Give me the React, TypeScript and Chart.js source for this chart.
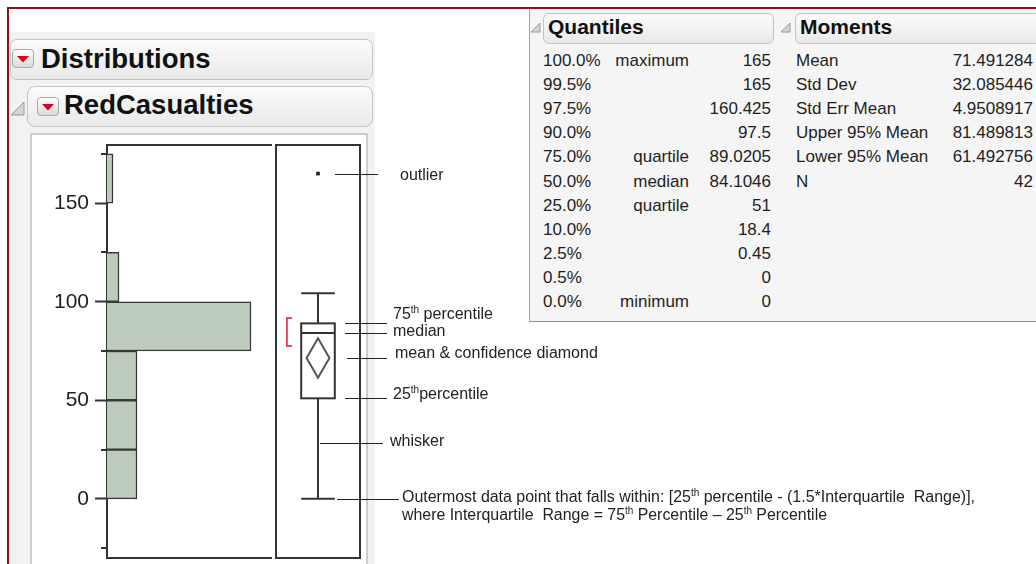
import React, { useEffect, useRef } from "react";
import { Chart, registerables } from "chart.js";

Chart.register(...registerables);

// ---------- data ----------
const binEdges = [0, 25, 50, 75, 100, 125, 150, 175];
const binCounts = [5, 5, 5, 24, 2, 0, 1];
const axisTicks = [-25, 0, 25, 50, 75, 100, 125, 150, 175];
const axisLabels = ["", "0", "", "50", "", "100", "", "150", ""];
const axisMin = -30;
const axisMax = 179.5;
const countMax = 27.5;

const whiskerLow = 0;
const quartile1 = 51;
const medianValue = 84.1046;
const quartile3 = 89.0205;
const whiskerHigh = 104.3;
const meanValue = 71.491284;
const lowerMean95 = 61.492756;
const upperMean95 = 81.489813;
const outliers = [165];
const shortestHalf = [77.5, 91.7];
const whiskerPointer = 28.5;

const quantilePcts = ["100.0%", "99.5%", "97.5%", "90.0%", "75.0%", "50.0%", "25.0%", "10.0%", "2.5%", "0.5%", "0.0%"];
const quantileNames = ["maximum", "", "", "", "quartile", "median", "quartile", "", "", "", "minimum"];
const quantileValues = ["165", "165", "160.425", "97.5", "89.0205", "84.1046", "51", "18.4", "0.45", "0", "0"];
const momentNames = ["Mean", "Std Dev", "Std Err Mean", "Upper 95% Mean", "Lower 95% Mean", "N"];
const momentValues = ["71.491284", "32.085446", "4.9508917", "81.489813", "61.492756", "42"];

type Seg = { t: string; sup?: boolean };
const annotationTexts: Seg[][] = [
  [{ t: "outlier" }],
  [{ t: "75" }, { t: "th", sup: true }, { t: " percentile" }],
  [{ t: "median" }],
  [{ t: "mean & confidence diamond" }],
  [{ t: "25" }, { t: "th", sup: true }, { t: "percentile" }],
  [{ t: "whisker" }],
  [{ t: "Outermost data point that falls within: [25" }, { t: "th", sup: true }, { t: " percentile - (1.5*Interquartile  Range)]," }],
];
const annotationSecondLine: Seg[] = [
  { t: "where Interquartile  Range = 75" }, { t: "th", sup: true }, { t: " Percentile \u2013 25" }, { t: "th", sup: true }, { t: " Percentile" },
];
const annotationValues = [outliers[0], quartile3, medianValue, meanValue, quartile1, whiskerPointer, whiskerLow];

// ---------- layout (page pixels) ----------
const annotationLayout = [
  { x1: 335, x2: 378, tx: 400, dy: 1, w: 0 },
  { x1: 345, x2: 387, tx: 393, dy: -9, w: 0 },
  { x1: 345, x2: 387, tx: 393, dy: -2, w: 0 },
  { x1: 347, x2: 387, tx: 395, dy: -5, w: 0 },
  { x1: 345, x2: 387, tx: 393, dy: -4, w: 0 },
  { x1: 320, x2: 383, tx: 390, dy: -2, w: 0 },
  { x1: 337, x2: 399, tx: 402, dy: -2, w: 573 },
];
const secondLineDy = 18;
const secondLineW = 425;

const FONT = '"Liberation Sans", Arial, sans-serif';
const CANVAS_TOP = 133;
const A_W = 272;
const B_LEFT = 272;
const B_W = 1036 - 272;
const C_H = 431;

function drawRich(ctx: CanvasRenderingContext2D, segs: Seg[], x: number, y: number, size: number, targetW: number) {
  const fN = `${size}px ${FONT}`;
  const fS = `${Math.round(size * 0.62)}px ${FONT}`;
  const widths = segs.map((s) => {
    ctx.font = s.sup ? fS : fN;
    return ctx.measureText(s.t).width;
  });
  const total = widths.reduce((a, b) => a + b, 0);
  ctx.save();
  ctx.translate(x, y);
  if (targetW > 0) ctx.scale(targetW / total, 1);
  ctx.textBaseline = "middle";
  ctx.textAlign = "left";
  ctx.fillStyle = "#222";
  let cx = 0;
  segs.forEach((s, i) => {
    ctx.font = s.sup ? fS : fN;
    ctx.fillText(s.t, cx, s.sup ? -4 : 0);
    cx += widths[i];
  });
  ctx.restore();
}

const GrayTri = ({ x, y, s }: { x: number; y: number; s: number }) => (
  <svg width={s + 2} height={s + 2} style={{ position: "absolute", left: x, top: y }}>
    <polygon points={`${s},1 ${s},${s} 1,${s}`} fill="#d4d4d4" stroke="#9a9a9a" strokeWidth={1} />
  </svg>
);

const RedIcon = ({ x, y }: { x: number; y: number }) => (
  <div
    style={{
      position: "absolute", left: x, top: y, width: 22, height: 19, boxSizing: "border-box",
      border: "1px solid #a9a9a9", borderRadius: 4, background: "linear-gradient(#ffffff, #dadada)",
    }}
  >
    <svg width={20} height={17} style={{ position: "absolute", left: 0, top: 0 }}>
      <polygon points="4,6 16,6 10,12.5" fill="#d8001c" />
    </svg>
  </div>
);

const HeaderBox = ({ x, y, w, h, r }: { x: number; y: number; w: number; h: number; r: number }) => (
  <div
    style={{
      position: "absolute", left: x, top: y, width: w, height: h, boxSizing: "border-box",
      border: "1px solid #c3c3c3", borderRadius: r, background: "linear-gradient(#fbfbfb, #e9e9e9)",
    }}
  />
);

export default function App() {
  const refA = useRef<HTMLCanvasElement>(null);
  const refB = useRef<HTMLCanvasElement>(null);

  useEffect(() => {
    const centers = binCounts.map((_, i) => (binEdges[i] + binEdges[i + 1]) / 2);

    const framePluginA = {
      id: "frameA",
      afterDraw(chart: any) {
        const { ctx, chartArea: a, scales } = chart;
        ctx.save();
        ctx.strokeStyle = "#333";
        ctx.lineWidth = 2;
        ctx.beginPath();
        ctx.moveTo(a.left, a.top); ctx.lineTo(a.right, a.top);
        ctx.moveTo(a.left, a.bottom); ctx.lineTo(a.right, a.bottom);
        axisTicks.forEach((v) => {
          if (v % 50 !== 0) {
            const py = Math.round(scales.y.getPixelForValue(v));
            ctx.moveTo(a.left - 6, py); ctx.lineTo(a.left, py);
          }
        });
        ctx.stroke();
        ctx.restore();
      },
    };

    const chartA = new Chart(refA.current!, {
      type: "bar",
      data: {
        datasets: [
          {
            data: binCounts.map((c, i) => ({ x: c, y: centers[i] })) as any,
            backgroundColor: "#bccbbb",
            borderColor: "#383838",
            borderWidth: 1.5,
            barPercentage: 1,
            categoryPercentage: 1,
            borderSkipped: "start",
          },
        ],
      },
      options: {
        indexAxis: "y",
        animation: false,
        responsive: false,
        events: [],
        layout: { padding: { top: 12, bottom: 6, left: 0, right: 0 } },
        plugins: { legend: { display: false }, tooltip: { enabled: false } },
        scales: {
          x: { type: "linear", min: 0, max: countMax, display: false, offset: false },
          y: {
            type: "linear",
            min: axisMin,
            max: axisMax,
            offset: false,
            afterBuildTicks: (s: any) => {
              s.ticks = axisTicks.map((v) => ({ value: v }));
            },
            afterFit: (s: any) => {
              s.width = 107;
              s.paddingTop = 0;
              s.paddingBottom = 0;
            },
            ticks: {
              autoSkip: false,
              padding: 6,
              color: "#222",
              font: { family: FONT, size: 21 },
              callback: (_v: any, i: number) => axisLabels[i],
            },
            grid: {
              offset: false,
              drawOnChartArea: false,
              tickLength: 12,
              tickWidth: 2,
              tickColor: (ctx: any) => (ctx.tick && ctx.tick.value % 50 === 0 ? "#333" : "rgba(0,0,0,0)"),
            },
            border: { color: "#333", width: 2 },
          },
        },
      } as any,
      plugins: [framePluginA],
    });

    const boxPlugin = {
      id: "boxplot",
      beforeDatasetsDraw(chart: any) {
        const { ctx, chartArea: a, scales } = chart;
        const xs = scales.x;
        const ys = scales.y;
        const cx = xs.getPixelForValue(0.5);
        const hw = xs.getPixelForValue(0.7) - cx;
        const dw = xs.getPixelForValue(0.636) - cx;
        const Y = (v: number) => ys.getPixelForValue(v);
        ctx.save();
        ctx.strokeStyle = "#333";
        ctx.lineWidth = 2;
        ctx.strokeRect(a.left, a.top, a.right - a.left, a.bottom - a.top);
        ctx.beginPath();
        ctx.moveTo(cx, Y(quartile3)); ctx.lineTo(cx, Y(whiskerHigh));
        ctx.moveTo(cx - hw, Y(whiskerHigh)); ctx.lineTo(cx + hw, Y(whiskerHigh));
        ctx.moveTo(cx, Y(quartile1)); ctx.lineTo(cx, Y(whiskerLow));
        ctx.moveTo(cx - hw, Y(whiskerLow)); ctx.lineTo(cx + hw, Y(whiskerLow));
        ctx.stroke();
        ctx.strokeRect(cx - hw, Y(quartile3), 2 * hw, Y(quartile1) - Y(quartile3));
        ctx.beginPath();
        ctx.moveTo(cx - hw, Y(medianValue)); ctx.lineTo(cx + hw, Y(medianValue));
        ctx.stroke();
        ctx.strokeStyle = "#555";
        ctx.beginPath();
        ctx.moveTo(cx, Y(upperMean95));
        ctx.lineTo(cx + dw, Y(meanValue));
        ctx.lineTo(cx, Y(lowerMean95));
        ctx.lineTo(cx - dw, Y(meanValue));
        ctx.closePath();
        ctx.stroke();
        const bx = xs.getPixelForValue(0.13);
        ctx.strokeStyle = "#e84a5c";
        ctx.beginPath();
        ctx.moveTo(bx + 5, Y(shortestHalf[1]));
        ctx.lineTo(bx, Y(shortestHalf[1]));
        ctx.lineTo(bx, Y(shortestHalf[0]));
        ctx.lineTo(bx + 5, Y(shortestHalf[0]));
        ctx.stroke();
        ctx.strokeStyle = "#222";
        ctx.lineWidth = 1;
        annotationValues.forEach((v, i) => {
          const L = annotationLayout[i];
          const py = Math.round(Y(v)) + 0.5;
          ctx.beginPath();
          ctx.moveTo(L.x1 - B_LEFT, py);
          ctx.lineTo(L.x2 - B_LEFT, py);
          ctx.stroke();
          drawRich(ctx, annotationTexts[i], L.tx - B_LEFT, py + L.dy, 16, L.w);
          if (i === annotationValues.length - 1) {
            drawRich(ctx, annotationSecondLine, L.tx - B_LEFT, py + L.dy + secondLineDy, 16, secondLineW);
          }
        });
        ctx.restore();
      },
    };

    const chartB = new Chart(refB.current!, {
      type: "scatter",
      data: {
        datasets: [
          {
            data: outliers.map((v) => ({ x: 0.5, y: v })),
            pointRadius: 2.6,
            pointStyle: "rect",
            backgroundColor: "#222",
            borderColor: "#222",
            borderWidth: 0,
          },
        ],
      },
      options: {
        animation: false,
        responsive: false,
        events: [],
        layout: { padding: { left: 0, right: B_W - 88, top: 12, bottom: 6 } },
        plugins: { legend: { display: false }, tooltip: { enabled: false } },
        scales: {
          x: { type: "linear", min: 0, max: 1, display: false },
          y: { type: "linear", min: axisMin, max: axisMax, display: false },
        },
      } as any,
      plugins: [boxPlugin],
    });

    return () => {
      chartA.destroy();
      chartB.destroy();
    };
  }, []);

  const rowY = (i: number) => 49 + i * 24.1;
  const txt: React.CSSProperties = {
    position: "absolute", font: `17px ${FONT}`, color: "#1e1e1e", lineHeight: "24px", whiteSpace: "nowrap",
  };

  return (
    <div style={{ position: "fixed", left: 0, top: 0, width: 1036, height: 564, overflow: "hidden", background: "#fff" }}>
      <div style={{ position: "absolute", left: 9, top: 32, width: 366, height: 540, background: "#f2f2f2" }} />
      <HeaderBox x={10} y={39} w={363} h={41} r={7} />
      <RedIcon x={12} y={49} />
      <div style={{ position: "absolute", left: 41, top: 43, height: 41, lineHeight: "41px", font: `bold 27.5px ${FONT}`, color: "#111" }}>
        Distributions
      </div>
      <GrayTri x={10} y={101} s={14} />
      <HeaderBox x={27} y={86} w={346} h={41} r={8} />
      <RedIcon x={37} y={97} />
      <div style={{ position: "absolute", left: 64, top: 89, height: 41, lineHeight: "41px", font: `bold 27.5px ${FONT}`, color: "#111" }}>
        RedCasualties
      </div>
      <div style={{ position: "absolute", left: 30, top: 133, width: 338, height: 450, boxSizing: "border-box", border: "2px solid #cdcdcd", background: "#fff" }} />

      <div style={{ position: "absolute", left: 529, top: 9, width: 520, height: 313, boxSizing: "border-box", borderLeft: "1px solid #a3a3a3", borderBottom: "1px solid #8e8e8e", background: "#f5f5f5" }} />
      <GrayTri x={530} y={22} s={10} />
      <HeaderBox x={543} y={13} w={231} h={31} r={6} />
      <div style={{ position: "absolute", left: 548, top: 15, lineHeight: "31px", font: `bold 21px ${FONT}`, color: "#111" }}>Quantiles</div>
      <GrayTri x={780} y={22} s={10} />
      <HeaderBox x={795} y={13} w={260} h={31} r={6} />
      <div style={{ position: "absolute", left: 800, top: 15, lineHeight: "31px", font: `bold 21px ${FONT}`, color: "#111" }}>Moments</div>
      {quantilePcts.map((p, i) => (
        <React.Fragment key={"q" + i}>
          <div style={{ ...txt, left: 543, top: rowY(i) }}>{p}</div>
          <div style={{ ...txt, right: 1036 - 689, top: rowY(i), textAlign: "right" }}>{quantileNames[i]}</div>
          <div style={{ ...txt, right: 1036 - 771, top: rowY(i), textAlign: "right" }}>{quantileValues[i]}</div>
        </React.Fragment>
      ))}
      {momentNames.map((m, i) => (
        <React.Fragment key={"m" + i}>
          <div style={{ ...txt, left: 796, top: rowY(i) }}>{m}</div>
          <div style={{ ...txt, right: 1036 - 1033, top: rowY(i), textAlign: "right" }}>{momentValues[i]}</div>
        </React.Fragment>
      ))}

      <canvas ref={refA} width={A_W} height={C_H} style={{ position: "absolute", left: 0, top: CANVAS_TOP, width: A_W, height: C_H }} />
      <canvas ref={refB} width={B_W} height={C_H} style={{ position: "absolute", left: B_LEFT, top: CANVAS_TOP, width: B_W, height: C_H }} />

      <div style={{ position: "absolute", left: 7, top: 7, width: 1100, height: 700, boxSizing: "border-box", borderTop: "2px solid #8b1414", borderLeft: "2px solid #8b1414" }} />
    </div>
  );
}
